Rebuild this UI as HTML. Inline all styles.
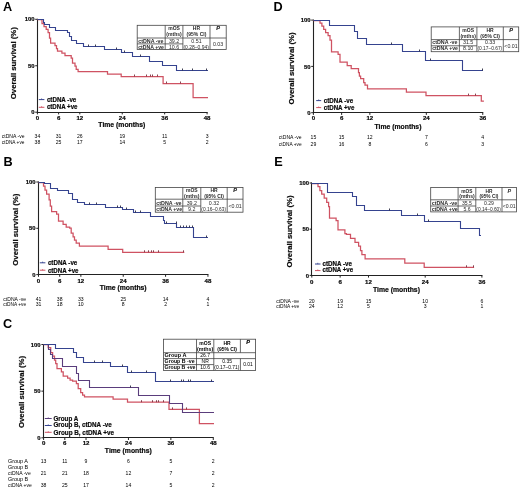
<!DOCTYPE html>
<html><head><meta charset="utf-8"><style>
html,body{margin:0;padding:0;background:#fff;}
svg{display:block;font-family:"Liberation Sans", sans-serif;will-change:transform;}
</style></head><body>
<svg width="520" height="488" viewBox="0 0 520 488">
<rect width="520" height="488" fill="#fff"/>
<text x="3.00" y="11.00" font-size="12.7" font-weight="bold">A</text>
<line x1="37.50" y1="18.80" x2="37.50" y2="113.00" stroke="#222" stroke-width="1.1"/>
<line x1="37.00" y1="112.50" x2="207.58" y2="112.50" stroke="#222" stroke-width="1.1"/>
<line x1="35.20" y1="19.30" x2="37.40" y2="19.30" stroke="#222" stroke-width="1"/>
<text x="34.60" y="21.40" font-size="5.9" font-weight="bold" stroke="#222" stroke-width="0.22" text-anchor="end">100</text>
<line x1="35.20" y1="65.75" x2="37.40" y2="65.75" stroke="#222" stroke-width="1"/>
<text x="34.60" y="67.85" font-size="5.9" font-weight="bold" stroke="#222" stroke-width="0.22" text-anchor="end">50</text>
<line x1="35.20" y1="112.20" x2="37.40" y2="112.20" stroke="#222" stroke-width="1"/>
<text x="34.60" y="114.30" font-size="5.9" font-weight="bold" stroke="#222" stroke-width="0.22" text-anchor="end">0</text>
<line x1="37.40" y1="112.20" x2="37.40" y2="114.40" stroke="#222" stroke-width="1"/>
<text x="37.40" y="119.70" font-size="6.1" font-weight="bold" stroke="#222" stroke-width="0.22" text-anchor="middle">0</text>
<line x1="58.61" y1="112.20" x2="58.61" y2="114.40" stroke="#222" stroke-width="1"/>
<text x="58.61" y="119.70" font-size="6.1" font-weight="bold" stroke="#222" stroke-width="0.22" text-anchor="middle">6</text>
<line x1="79.82" y1="112.20" x2="79.82" y2="114.40" stroke="#222" stroke-width="1"/>
<text x="79.82" y="119.70" font-size="6.1" font-weight="bold" stroke="#222" stroke-width="0.22" text-anchor="middle">12</text>
<line x1="122.24" y1="112.20" x2="122.24" y2="114.40" stroke="#222" stroke-width="1"/>
<text x="122.24" y="119.70" font-size="6.1" font-weight="bold" stroke="#222" stroke-width="0.22" text-anchor="middle">24</text>
<line x1="164.66" y1="112.20" x2="164.66" y2="114.40" stroke="#222" stroke-width="1"/>
<text x="164.66" y="119.70" font-size="6.1" font-weight="bold" stroke="#222" stroke-width="0.22" text-anchor="middle">36</text>
<line x1="207.08" y1="112.20" x2="207.08" y2="114.40" stroke="#222" stroke-width="1"/>
<text x="207.08" y="119.70" font-size="6.1" font-weight="bold" stroke="#222" stroke-width="0.22" text-anchor="middle">48</text>
<text x="15.60" y="63.20" font-size="7.9" font-weight="bold" stroke="#222" stroke-width="0.22" text-anchor="middle" textLength="72" lengthAdjust="spacingAndGlyphs" transform="rotate(-90 15.60 63.20)">Overall survival (%)</text>
<text x="121.80" y="127.00" font-size="7.0" font-weight="bold" stroke="#222" stroke-width="0.22" text-anchor="middle" textLength="46.9" lengthAdjust="spacingAndGlyphs">Time (months)</text>
<path d="M37.40 19.50H42.00V23.70H44.00V26.50H46.20V29.40H48.10V32.50H49.50V38.00H50.60V43.10H55.00V45.60H56.50V48.50H57.50V51.20H61.90V53.10H65.00V55.60H71.20V58.10H72.50V63.10H75.00V66.20H76.20V69.40H78.10V71.50H107.50V74.00H121.20V76.50H163.10V83.50H193.10V97.70H208.00" fill="none" stroke="#cf5262" stroke-width="1.25" stroke-linejoin="miter"/>
<path d="M37.50 19.50H43.50V22.50H44.50V24.50H49.50V27.50H55.50V30.50H67.50V32.50H69.50V36.50H71.50V40.50H76.50V43.50H83.50V46.50H104.50V49.50H121.50V52.50H132.50V56.50H149.50V61.50H162.50V65.50H176.50V70.50H208.00" fill="none" stroke="#35438f" stroke-width="1.1" stroke-linejoin="miter"/>
<line x1="88.50" y1="44.50" x2="88.50" y2="46.50" stroke="#2a2a40" stroke-width="0.9"/>
<line x1="95.50" y1="44.50" x2="95.50" y2="46.50" stroke="#2a2a40" stroke-width="0.9"/>
<line x1="116.50" y1="47.50" x2="116.50" y2="49.50" stroke="#2a2a40" stroke-width="0.9"/>
<line x1="124.50" y1="50.50" x2="124.50" y2="52.50" stroke="#2a2a40" stroke-width="0.9"/>
<line x1="140.50" y1="54.50" x2="140.50" y2="56.50" stroke="#2a2a40" stroke-width="0.9"/>
<line x1="182.50" y1="68.50" x2="182.50" y2="70.50" stroke="#2a2a40" stroke-width="0.9"/>
<line x1="192.50" y1="68.50" x2="192.50" y2="70.50" stroke="#2a2a40" stroke-width="0.9"/>
<line x1="206.50" y1="68.50" x2="206.50" y2="70.50" stroke="#2a2a40" stroke-width="0.9"/>
<line x1="134.50" y1="74.50" x2="134.50" y2="76.50" stroke="#7a3040" stroke-width="0.9"/>
<line x1="146.50" y1="74.50" x2="146.50" y2="76.50" stroke="#7a3040" stroke-width="0.9"/>
<line x1="150.50" y1="74.50" x2="150.50" y2="76.50" stroke="#7a3040" stroke-width="0.9"/>
<line x1="152.50" y1="74.50" x2="152.50" y2="76.50" stroke="#7a3040" stroke-width="0.9"/>
<line x1="157.50" y1="74.50" x2="157.50" y2="76.50" stroke="#7a3040" stroke-width="0.9"/>
<line x1="166.50" y1="81.50" x2="166.50" y2="83.50" stroke="#7a3040" stroke-width="0.9"/>
<line x1="180.50" y1="81.50" x2="180.50" y2="83.50" stroke="#7a3040" stroke-width="0.9"/>
<line x1="38.80" y1="99.60" x2="44.40" y2="99.60" stroke="#35438f" stroke-width="1"/>
<line x1="41.60" y1="98.40" x2="41.60" y2="99.80" stroke="#35438f" stroke-width="0.7"/>
<text x="46.90" y="102.20" font-size="6.5" font-weight="bold" stroke="#222" stroke-width="0.22" textLength="29.4" lengthAdjust="spacingAndGlyphs">ctDNA -ve</text>
<line x1="38.80" y1="107.30" x2="44.40" y2="107.30" stroke="#cf5262" stroke-width="1"/>
<line x1="41.60" y1="106.10" x2="41.60" y2="107.50" stroke="#cf5262" stroke-width="0.7"/>
<text x="46.90" y="109.30" font-size="6.5" font-weight="bold" stroke="#222" stroke-width="0.22" textLength="30.6" lengthAdjust="spacingAndGlyphs">ctDNA +ve</text>
<rect x="137.20" y="25.30" width="89.00" height="24.10" fill="#fff" stroke="#444" stroke-width="0.8"/>
<line x1="165.20" y1="25.30" x2="165.20" y2="49.40" stroke="#444" stroke-width="0.8"/>
<line x1="182.90" y1="25.30" x2="182.90" y2="49.40" stroke="#444" stroke-width="0.8"/>
<line x1="210.00" y1="25.30" x2="210.00" y2="49.40" stroke="#444" stroke-width="0.8"/>
<line x1="137.20" y1="38.00" x2="226.20" y2="38.00" stroke="#444" stroke-width="0.8"/>
<line x1="137.20" y1="43.90" x2="182.90" y2="43.90" stroke="#444" stroke-width="0.8"/>
<text x="174.05" y="29.60" font-size="5.0" font-weight="bold" text-anchor="middle" fill="#2a2a2a">mOS</text>
<text x="174.05" y="36.30" font-size="5.0" font-weight="bold" text-anchor="middle" textLength="15.5" lengthAdjust="spacingAndGlyphs" fill="#2a2a2a">(mths)</text>
<text x="196.45" y="29.60" font-size="5.0" font-weight="bold" text-anchor="middle" fill="#2a2a2a">HR</text>
<text x="196.45" y="36.30" font-size="5.0" font-weight="bold" text-anchor="middle" fill="#2a2a2a">(95% CI)</text>
<text x="218.10" y="29.60" font-size="5.6" font-weight="bold" stroke="#2a2a2a" stroke-width="0.22" font-style="italic" text-anchor="middle" fill="#2a2a2a">P</text>
<text x="138.20" y="42.70" font-size="5.3" font-weight="bold" textLength="25.3" lengthAdjust="spacingAndGlyphs" fill="#2a2a2a">ctDNA -ve</text>
<text x="138.20" y="48.50" font-size="5.3" font-weight="bold" textLength="25.8" lengthAdjust="spacingAndGlyphs" fill="#2a2a2a">ctDNA +ve</text>
<text x="174.05" y="42.70" font-size="5.3" text-anchor="middle" fill="#2a2a2a">39.2</text>
<text x="174.05" y="48.50" font-size="5.3" text-anchor="middle" fill="#2a2a2a">10.6</text>
<text x="196.45" y="42.70" font-size="5.3" text-anchor="middle" fill="#2a2a2a">0.51</text>
<text x="196.15" y="48.60" font-size="5.4" text-anchor="middle" textLength="25.499999999999993" lengthAdjust="spacingAndGlyphs" fill="#2a2a2a">(0.28–0.94)</text>
<text x="218.10" y="45.80" font-size="5.3" text-anchor="middle" fill="#2a2a2a">0.03</text>
<text x="1.70" y="138.00" font-size="5.1" textLength="22.8" lengthAdjust="spacingAndGlyphs">ctDNA -ve</text>
<text x="37.40" y="138.00" font-size="5.1" text-anchor="middle">34</text>
<text x="58.61" y="138.00" font-size="5.1" text-anchor="middle">31</text>
<text x="79.82" y="138.00" font-size="5.1" text-anchor="middle">26</text>
<text x="122.24" y="138.00" font-size="5.1" text-anchor="middle">19</text>
<text x="164.66" y="138.00" font-size="5.1" text-anchor="middle">11</text>
<text x="207.08" y="138.00" font-size="5.1" text-anchor="middle">3</text>
<text x="1.70" y="143.90" font-size="5.1" textLength="22.8" lengthAdjust="spacingAndGlyphs">ctDNA +ve</text>
<text x="37.40" y="143.90" font-size="5.1" text-anchor="middle">38</text>
<text x="58.61" y="143.90" font-size="5.1" text-anchor="middle">25</text>
<text x="79.82" y="143.90" font-size="5.1" text-anchor="middle">17</text>
<text x="122.24" y="143.90" font-size="5.1" text-anchor="middle">14</text>
<text x="164.66" y="143.90" font-size="5.1" text-anchor="middle">5</text>
<text x="207.08" y="143.90" font-size="5.1" text-anchor="middle">2</text>
<text x="3.60" y="165.80" font-size="12.7" font-weight="bold">B</text>
<line x1="38.50" y1="181.50" x2="38.50" y2="275.00" stroke="#222" stroke-width="1.1"/>
<line x1="38.00" y1="274.50" x2="208.44" y2="274.50" stroke="#222" stroke-width="1.1"/>
<line x1="36.30" y1="182.00" x2="38.50" y2="182.00" stroke="#222" stroke-width="1"/>
<text x="35.50" y="184.10" font-size="5.9" font-weight="bold" stroke="#222" stroke-width="0.22" text-anchor="end">100</text>
<line x1="36.30" y1="228.30" x2="38.50" y2="228.30" stroke="#222" stroke-width="1"/>
<text x="35.50" y="230.40" font-size="5.9" font-weight="bold" stroke="#222" stroke-width="0.22" text-anchor="end">50</text>
<line x1="36.30" y1="274.60" x2="38.50" y2="274.60" stroke="#222" stroke-width="1"/>
<text x="35.50" y="276.70" font-size="5.9" font-weight="bold" stroke="#222" stroke-width="0.22" text-anchor="end">0</text>
<line x1="38.50" y1="274.60" x2="38.50" y2="276.80" stroke="#222" stroke-width="1"/>
<text x="38.50" y="282.50" font-size="6.1" font-weight="bold" stroke="#222" stroke-width="0.22" text-anchor="middle">0</text>
<line x1="59.68" y1="274.60" x2="59.68" y2="276.80" stroke="#222" stroke-width="1"/>
<text x="59.68" y="282.50" font-size="6.1" font-weight="bold" stroke="#222" stroke-width="0.22" text-anchor="middle">6</text>
<line x1="80.86" y1="274.60" x2="80.86" y2="276.80" stroke="#222" stroke-width="1"/>
<text x="80.86" y="282.50" font-size="6.1" font-weight="bold" stroke="#222" stroke-width="0.22" text-anchor="middle">12</text>
<line x1="123.22" y1="274.60" x2="123.22" y2="276.80" stroke="#222" stroke-width="1"/>
<text x="123.22" y="282.50" font-size="6.1" font-weight="bold" stroke="#222" stroke-width="0.22" text-anchor="middle">24</text>
<line x1="165.58" y1="274.60" x2="165.58" y2="276.80" stroke="#222" stroke-width="1"/>
<text x="165.58" y="282.50" font-size="6.1" font-weight="bold" stroke="#222" stroke-width="0.22" text-anchor="middle">36</text>
<line x1="207.94" y1="274.60" x2="207.94" y2="276.80" stroke="#222" stroke-width="1"/>
<text x="207.94" y="282.50" font-size="6.1" font-weight="bold" stroke="#222" stroke-width="0.22" text-anchor="middle">48</text>
<text x="18.40" y="229.70" font-size="7.9" font-weight="bold" stroke="#222" stroke-width="0.22" text-anchor="middle" textLength="72" lengthAdjust="spacingAndGlyphs" transform="rotate(-90 18.40 229.70)">Overall survival (%)</text>
<text x="123.20" y="290.20" font-size="7.0" font-weight="bold" stroke="#222" stroke-width="0.22" text-anchor="middle" textLength="46.9" lengthAdjust="spacingAndGlyphs">Time (months)</text>
<path d="M38.50 182.50H43.50V186.00H45.00V190.00H46.60V194.20H49.10V199.90H50.30V206.00H51.60V211.70H56.60V214.20H58.50V221.10H63.10V224.40H66.20V227.20H69.70V228.00H71.20V233.10H73.10V236.90H74.50V240.00H76.20V243.10H79.40V246.20H108.10V249.40H122.70V252.30H184.30" fill="none" stroke="#cf5262" stroke-width="1.25" stroke-linejoin="miter"/>
<path d="M38.50 182.50H44.50V183.50H50.50V188.50H57.50V190.50H68.50V193.50H72.50V199.50H77.50V202.50H84.50V204.50H105.50V207.50H122.50V209.50H133.50V212.50H150.50V216.50H163.50V220.50H164.50V223.50H176.50V227.50H193.50V237.50H208.00" fill="none" stroke="#35438f" stroke-width="1.1" stroke-linejoin="miter"/>
<line x1="89.50" y1="202.50" x2="89.50" y2="204.50" stroke="#2a2a40" stroke-width="0.9"/>
<line x1="96.50" y1="202.50" x2="96.50" y2="204.50" stroke="#2a2a40" stroke-width="0.9"/>
<line x1="117.50" y1="205.50" x2="117.50" y2="207.50" stroke="#2a2a40" stroke-width="0.9"/>
<line x1="120.50" y1="205.50" x2="120.50" y2="207.50" stroke="#2a2a40" stroke-width="0.9"/>
<line x1="126.50" y1="207.50" x2="126.50" y2="209.50" stroke="#2a2a40" stroke-width="0.9"/>
<line x1="135.50" y1="210.50" x2="135.50" y2="212.50" stroke="#2a2a40" stroke-width="0.9"/>
<line x1="140.50" y1="210.50" x2="140.50" y2="212.50" stroke="#2a2a40" stroke-width="0.9"/>
<line x1="166.50" y1="221.50" x2="166.50" y2="223.50" stroke="#2a2a40" stroke-width="0.9"/>
<line x1="176.50" y1="221.50" x2="176.50" y2="223.50" stroke="#2a2a40" stroke-width="0.9"/>
<line x1="180.50" y1="225.50" x2="180.50" y2="227.50" stroke="#2a2a40" stroke-width="0.9"/>
<line x1="183.50" y1="225.50" x2="183.50" y2="227.50" stroke="#2a2a40" stroke-width="0.9"/>
<line x1="186.50" y1="225.50" x2="186.50" y2="227.50" stroke="#2a2a40" stroke-width="0.9"/>
<line x1="189.50" y1="225.50" x2="189.50" y2="227.50" stroke="#2a2a40" stroke-width="0.9"/>
<line x1="192.50" y1="225.50" x2="192.50" y2="227.50" stroke="#2a2a40" stroke-width="0.9"/>
<line x1="206.50" y1="235.50" x2="206.50" y2="237.50" stroke="#2a2a40" stroke-width="0.9"/>
<line x1="144.50" y1="250.30" x2="144.50" y2="252.30" stroke="#7a3040" stroke-width="0.9"/>
<line x1="148.50" y1="250.30" x2="148.50" y2="252.30" stroke="#7a3040" stroke-width="0.9"/>
<line x1="151.50" y1="250.30" x2="151.50" y2="252.30" stroke="#7a3040" stroke-width="0.9"/>
<line x1="153.50" y1="250.30" x2="153.50" y2="252.30" stroke="#7a3040" stroke-width="0.9"/>
<line x1="158.50" y1="250.30" x2="158.50" y2="252.30" stroke="#7a3040" stroke-width="0.9"/>
<line x1="183.50" y1="250.30" x2="183.50" y2="252.30" stroke="#7a3040" stroke-width="0.9"/>
<line x1="39.80" y1="262.80" x2="45.40" y2="262.80" stroke="#35438f" stroke-width="1"/>
<line x1="42.60" y1="261.60" x2="42.60" y2="263.00" stroke="#35438f" stroke-width="0.7"/>
<text x="47.90" y="265.30" font-size="6.5" font-weight="bold" stroke="#222" stroke-width="0.22" textLength="29.4" lengthAdjust="spacingAndGlyphs">ctDNA -ve</text>
<line x1="39.80" y1="270.20" x2="45.40" y2="270.20" stroke="#cf5262" stroke-width="1"/>
<line x1="42.60" y1="269.00" x2="42.60" y2="270.40" stroke="#cf5262" stroke-width="0.7"/>
<text x="47.90" y="272.50" font-size="6.5" font-weight="bold" stroke="#222" stroke-width="0.22" textLength="30.6" lengthAdjust="spacingAndGlyphs">ctDNA +ve</text>
<rect x="155.30" y="187.40" width="87.70" height="24.80" fill="#fff" stroke="#444" stroke-width="0.8"/>
<line x1="182.80" y1="187.40" x2="182.80" y2="212.20" stroke="#444" stroke-width="0.8"/>
<line x1="200.80" y1="187.40" x2="200.80" y2="212.20" stroke="#444" stroke-width="0.8"/>
<line x1="227.20" y1="187.40" x2="227.20" y2="212.20" stroke="#444" stroke-width="0.8"/>
<line x1="155.30" y1="199.20" x2="243.00" y2="199.20" stroke="#444" stroke-width="0.8"/>
<line x1="155.30" y1="206.00" x2="200.80" y2="206.00" stroke="#444" stroke-width="0.8"/>
<text x="191.80" y="192.10" font-size="5.0" font-weight="bold" text-anchor="middle" fill="#2a2a2a">mOS</text>
<text x="191.80" y="198.40" font-size="5.0" font-weight="bold" text-anchor="middle" textLength="15.5" lengthAdjust="spacingAndGlyphs" fill="#2a2a2a">(mths)</text>
<text x="214.00" y="192.10" font-size="5.0" font-weight="bold" text-anchor="middle" fill="#2a2a2a">HR</text>
<text x="214.00" y="198.40" font-size="5.0" font-weight="bold" text-anchor="middle" fill="#2a2a2a">(95% CI)</text>
<text x="235.10" y="192.10" font-size="5.6" font-weight="bold" stroke="#2a2a2a" stroke-width="0.22" font-style="italic" text-anchor="middle" fill="#2a2a2a">P</text>
<text x="156.30" y="205.00" font-size="5.3" font-weight="bold" textLength="25.3" lengthAdjust="spacingAndGlyphs" fill="#2a2a2a">ctDNA -ve</text>
<text x="156.30" y="210.90" font-size="5.3" font-weight="bold" textLength="25.8" lengthAdjust="spacingAndGlyphs" fill="#2a2a2a">ctDNA +ve</text>
<text x="191.80" y="205.00" font-size="5.3" text-anchor="middle" fill="#2a2a2a">39.2</text>
<text x="191.80" y="210.90" font-size="5.3" text-anchor="middle" fill="#2a2a2a">9.2</text>
<text x="214.00" y="205.00" font-size="5.3" text-anchor="middle" fill="#2a2a2a">0.32</text>
<text x="213.70" y="211.00" font-size="5.4" text-anchor="middle" textLength="24.799999999999976" lengthAdjust="spacingAndGlyphs" fill="#2a2a2a">(0.16–0.63)</text>
<text x="235.10" y="207.90" font-size="5.3" text-anchor="middle" fill="#2a2a2a">&lt;0.01</text>
<text x="3.30" y="300.80" font-size="5.1" textLength="22.8" lengthAdjust="spacingAndGlyphs">ctDNA -ve</text>
<text x="38.50" y="300.80" font-size="5.1" text-anchor="middle">41</text>
<text x="59.68" y="300.80" font-size="5.1" text-anchor="middle">38</text>
<text x="80.86" y="300.80" font-size="5.1" text-anchor="middle">33</text>
<text x="123.22" y="300.80" font-size="5.1" text-anchor="middle">25</text>
<text x="165.58" y="300.80" font-size="5.1" text-anchor="middle">14</text>
<text x="207.94" y="300.80" font-size="5.1" text-anchor="middle">4</text>
<text x="3.30" y="306.30" font-size="5.1" textLength="22.8" lengthAdjust="spacingAndGlyphs">ctDNA +ve</text>
<text x="38.50" y="306.30" font-size="5.1" text-anchor="middle">31</text>
<text x="59.68" y="306.30" font-size="5.1" text-anchor="middle">18</text>
<text x="80.86" y="306.30" font-size="5.1" text-anchor="middle">10</text>
<text x="123.22" y="306.30" font-size="5.1" text-anchor="middle">8</text>
<text x="165.58" y="306.30" font-size="5.1" text-anchor="middle">2</text>
<text x="207.94" y="306.30" font-size="5.1" text-anchor="middle">1</text>
<text x="3.00" y="328.40" font-size="12.7" font-weight="bold">C</text>
<line x1="43.50" y1="344.00" x2="43.50" y2="438.00" stroke="#222" stroke-width="1.1"/>
<line x1="43.00" y1="437.50" x2="213.78" y2="437.50" stroke="#222" stroke-width="1.1"/>
<line x1="41.40" y1="344.50" x2="43.60" y2="344.50" stroke="#222" stroke-width="1"/>
<text x="40.60" y="346.60" font-size="5.9" font-weight="bold" stroke="#222" stroke-width="0.22" text-anchor="end">100</text>
<line x1="41.40" y1="391.15" x2="43.60" y2="391.15" stroke="#222" stroke-width="1"/>
<text x="40.60" y="393.25" font-size="5.9" font-weight="bold" stroke="#222" stroke-width="0.22" text-anchor="end">50</text>
<line x1="41.40" y1="437.80" x2="43.60" y2="437.80" stroke="#222" stroke-width="1"/>
<text x="40.60" y="439.90" font-size="5.9" font-weight="bold" stroke="#222" stroke-width="0.22" text-anchor="end">0</text>
<line x1="43.60" y1="437.80" x2="43.60" y2="440.00" stroke="#222" stroke-width="1"/>
<text x="43.60" y="445.20" font-size="6.1" font-weight="bold" stroke="#222" stroke-width="0.22" text-anchor="middle">0</text>
<line x1="64.81" y1="437.80" x2="64.81" y2="440.00" stroke="#222" stroke-width="1"/>
<text x="64.81" y="445.20" font-size="6.1" font-weight="bold" stroke="#222" stroke-width="0.22" text-anchor="middle">6</text>
<line x1="86.02" y1="437.80" x2="86.02" y2="440.00" stroke="#222" stroke-width="1"/>
<text x="86.02" y="445.20" font-size="6.1" font-weight="bold" stroke="#222" stroke-width="0.22" text-anchor="middle">12</text>
<line x1="128.44" y1="437.80" x2="128.44" y2="440.00" stroke="#222" stroke-width="1"/>
<text x="128.44" y="445.20" font-size="6.1" font-weight="bold" stroke="#222" stroke-width="0.22" text-anchor="middle">24</text>
<line x1="170.86" y1="437.80" x2="170.86" y2="440.00" stroke="#222" stroke-width="1"/>
<text x="170.86" y="445.20" font-size="6.1" font-weight="bold" stroke="#222" stroke-width="0.22" text-anchor="middle">36</text>
<line x1="213.28" y1="437.80" x2="213.28" y2="440.00" stroke="#222" stroke-width="1"/>
<text x="213.28" y="445.20" font-size="6.1" font-weight="bold" stroke="#222" stroke-width="0.22" text-anchor="middle">48</text>
<text x="24.00" y="392.00" font-size="7.9" font-weight="bold" stroke="#222" stroke-width="0.22" text-anchor="middle" textLength="72" lengthAdjust="spacingAndGlyphs" transform="rotate(-90 24.00 392.00)">Overall survival (%)</text>
<text x="128.30" y="452.90" font-size="7.0" font-weight="bold" stroke="#222" stroke-width="0.22" text-anchor="middle" textLength="46.9" lengthAdjust="spacingAndGlyphs">Time (months)</text>
<path d="M43.60 344.50H48.20V347.50H50.70V352.50H52.60V356.20H54.50V360.00H55.70V363.70H57.00V368.70H61.40V371.90H63.20V376.20H67.60V378.10H70.10V380.00H72.60V381.20H76.40V383.70H78.20V388.70H80.70V392.50H82.60V395.00H84.50V396.90H113.10V399.10H127.50V402.20H169.00V409.40H199.40V423.50H214.00" fill="none" stroke="#cf5262" stroke-width="1.25" stroke-linejoin="miter"/>
<path d="M43.50 344.50H48.50V349.50H50.50V354.50H52.50V358.50H62.50V366.50H76.50V373.50H78.50V380.50H89.50V387.50H138.50V395.50H169.50V403.50H182.50V412.50H214.00" fill="none" stroke="#5a3d7c" stroke-width="1.1" stroke-linejoin="miter"/>
<path d="M43.50 344.50H55.50V348.50H73.50V352.50H76.50V357.50H83.50V362.50H110.50V366.50H127.50V372.50H155.50V381.50H214.00" fill="none" stroke="#35438f" stroke-width="1.1" stroke-linejoin="miter"/>
<line x1="94.50" y1="360.50" x2="94.50" y2="362.50" stroke="#2a2a40" stroke-width="0.9"/>
<line x1="102.50" y1="360.50" x2="102.50" y2="362.50" stroke="#2a2a40" stroke-width="0.9"/>
<line x1="122.50" y1="364.50" x2="122.50" y2="366.50" stroke="#2a2a40" stroke-width="0.9"/>
<line x1="131.50" y1="370.50" x2="131.50" y2="372.50" stroke="#2a2a40" stroke-width="0.9"/>
<line x1="146.50" y1="370.50" x2="146.50" y2="372.50" stroke="#2a2a40" stroke-width="0.9"/>
<line x1="170.50" y1="379.50" x2="170.50" y2="381.50" stroke="#2a2a40" stroke-width="0.9"/>
<line x1="181.50" y1="379.50" x2="181.50" y2="381.50" stroke="#2a2a40" stroke-width="0.9"/>
<line x1="183.50" y1="379.50" x2="183.50" y2="381.50" stroke="#2a2a40" stroke-width="0.9"/>
<line x1="188.50" y1="379.50" x2="188.50" y2="381.50" stroke="#2a2a40" stroke-width="0.9"/>
<line x1="190.50" y1="379.50" x2="190.50" y2="381.50" stroke="#2a2a40" stroke-width="0.9"/>
<line x1="211.50" y1="379.50" x2="211.50" y2="381.50" stroke="#2a2a40" stroke-width="0.9"/>
<line x1="130.50" y1="385.50" x2="130.50" y2="387.50" stroke="#2a2a40" stroke-width="0.9"/>
<line x1="141.50" y1="400.20" x2="141.50" y2="402.20" stroke="#7a3040" stroke-width="0.9"/>
<line x1="152.50" y1="400.20" x2="152.50" y2="402.20" stroke="#7a3040" stroke-width="0.9"/>
<line x1="156.50" y1="400.20" x2="156.50" y2="402.20" stroke="#7a3040" stroke-width="0.9"/>
<line x1="158.50" y1="400.20" x2="158.50" y2="402.20" stroke="#7a3040" stroke-width="0.9"/>
<line x1="163.50" y1="400.20" x2="163.50" y2="402.20" stroke="#7a3040" stroke-width="0.9"/>
<line x1="172.50" y1="407.40" x2="172.50" y2="409.40" stroke="#7a3040" stroke-width="0.9"/>
<line x1="186.50" y1="407.40" x2="186.50" y2="409.40" stroke="#7a3040" stroke-width="0.9"/>
<line x1="44.80" y1="418.50" x2="51.70" y2="418.50" stroke="#5a3d7c" stroke-width="1"/>
<line x1="48.25" y1="417.30" x2="48.25" y2="418.70" stroke="#5a3d7c" stroke-width="0.7"/>
<text x="53.50" y="420.80" font-size="6.5" font-weight="bold" stroke="#222" stroke-width="0.22" textLength="24.7" lengthAdjust="spacingAndGlyphs">Group A</text>
<line x1="44.80" y1="425.50" x2="51.70" y2="425.50" stroke="#35438f" stroke-width="1"/>
<line x1="48.25" y1="424.30" x2="48.25" y2="425.70" stroke="#35438f" stroke-width="0.7"/>
<text x="53.50" y="427.40" font-size="6.5" font-weight="bold" stroke="#222" stroke-width="0.22" textLength="58.2" lengthAdjust="spacingAndGlyphs">Group B, ctDNA -ve</text>
<line x1="44.80" y1="432.30" x2="51.70" y2="432.30" stroke="#cf5262" stroke-width="1"/>
<line x1="48.25" y1="431.10" x2="48.25" y2="432.50" stroke="#cf5262" stroke-width="0.7"/>
<text x="53.50" y="434.80" font-size="6.5" font-weight="bold" stroke="#222" stroke-width="0.22" textLength="60.5" lengthAdjust="spacingAndGlyphs">Group B, ctDNA +ve</text>
<rect x="163.5" y="339.2" width="92.10" height="31.20" fill="#fff" stroke="#444" stroke-width="0.8"/>
<line x1="196.50" y1="339.20" x2="196.50" y2="370.40" stroke="#444" stroke-width="0.8"/>
<line x1="213.80" y1="339.20" x2="213.80" y2="370.40" stroke="#444" stroke-width="0.8"/>
<line x1="240.40" y1="339.20" x2="240.40" y2="352.70" stroke="#444" stroke-width="0.8"/>
<line x1="240.40" y1="358.60" x2="240.40" y2="370.40" stroke="#444" stroke-width="0.8"/>
<line x1="163.50" y1="352.70" x2="255.60" y2="352.70" stroke="#444" stroke-width="0.8"/>
<line x1="163.50" y1="358.60" x2="255.60" y2="358.60" stroke="#444" stroke-width="0.8"/>
<line x1="163.50" y1="364.60" x2="213.80" y2="364.60" stroke="#444" stroke-width="0.8"/>
<text x="205.15" y="344.70" font-size="5.0" font-weight="bold" text-anchor="middle">mOS</text>
<text x="205.15" y="351.10" font-size="5.0" font-weight="bold" text-anchor="middle" textLength="16.2" lengthAdjust="spacingAndGlyphs">(mths)</text>
<text x="227.10" y="344.70" font-size="5.0" font-weight="bold" text-anchor="middle">HR</text>
<text x="227.10" y="351.10" font-size="5.0" font-weight="bold" text-anchor="middle">(95% CI)</text>
<text x="248.00" y="343.80" font-size="5.6" font-weight="bold" stroke="#222" stroke-width="0.22" font-style="italic" text-anchor="middle">P</text>
<text x="164.50" y="357.40" font-size="5.0" font-weight="bold" textLength="22.0" lengthAdjust="spacingAndGlyphs">Group A</text>
<text x="164.60" y="363.40" font-size="5.0" font-weight="bold" textLength="30.0" lengthAdjust="spacingAndGlyphs">Group B -ve</text>
<text x="164.50" y="369.40" font-size="5.0" font-weight="bold" textLength="31.0" lengthAdjust="spacingAndGlyphs">Group B +ve</text>
<text x="205.15" y="357.40" font-size="5.0" text-anchor="middle">26.7</text>
<text x="205.15" y="363.40" font-size="5.0" text-anchor="middle">NR</text>
<text x="205.15" y="369.40" font-size="5.0" text-anchor="middle">10.6</text>
<text x="227.10" y="363.00" font-size="5.0" text-anchor="middle">0.35</text>
<text x="226.80" y="369.20" font-size="5.4" text-anchor="middle" textLength="25.0" lengthAdjust="spacingAndGlyphs">(0.17–0.71)</text>
<text x="248.00" y="366.30" font-size="5.0" text-anchor="middle">0.01</text>
<text x="8.00" y="462.90" font-size="5.1" textLength="20.0" lengthAdjust="spacingAndGlyphs">Group A</text>
<text x="43.60" y="462.90" font-size="5.1" text-anchor="middle">13</text>
<text x="64.81" y="462.90" font-size="5.1" text-anchor="middle">11</text>
<text x="86.02" y="462.90" font-size="5.1" text-anchor="middle">9</text>
<text x="128.44" y="462.90" font-size="5.1" text-anchor="middle">6</text>
<text x="170.86" y="462.90" font-size="5.1" text-anchor="middle">5</text>
<text x="213.28" y="462.90" font-size="5.1" text-anchor="middle">2</text>
<text x="8.00" y="469.00" font-size="5.1" textLength="20.2" lengthAdjust="spacingAndGlyphs">Group B</text>
<text x="8.00" y="475.30" font-size="5.1" textLength="22.7" lengthAdjust="spacingAndGlyphs">ctDNA -ve</text>
<text x="43.60" y="475.30" font-size="5.1" text-anchor="middle">21</text>
<text x="64.81" y="475.30" font-size="5.1" text-anchor="middle">21</text>
<text x="86.02" y="475.30" font-size="5.1" text-anchor="middle">18</text>
<text x="128.44" y="475.30" font-size="5.1" text-anchor="middle">12</text>
<text x="170.86" y="475.30" font-size="5.1" text-anchor="middle">7</text>
<text x="213.28" y="475.30" font-size="5.1" text-anchor="middle">2</text>
<text x="8.00" y="481.20" font-size="5.1" textLength="20.2" lengthAdjust="spacingAndGlyphs">Group B</text>
<text x="8.00" y="487.30" font-size="5.1" textLength="23.7" lengthAdjust="spacingAndGlyphs">ctDNA +ve</text>
<text x="43.60" y="487.30" font-size="5.1" text-anchor="middle">38</text>
<text x="64.81" y="487.30" font-size="5.1" text-anchor="middle">25</text>
<text x="86.02" y="487.30" font-size="5.1" text-anchor="middle">17</text>
<text x="128.44" y="487.30" font-size="5.1" text-anchor="middle">14</text>
<text x="170.86" y="487.30" font-size="5.1" text-anchor="middle">5</text>
<text x="213.28" y="487.30" font-size="5.1" text-anchor="middle">2</text>
<text x="273.50" y="11.00" font-size="12.7" font-weight="bold">D</text>
<line x1="313.50" y1="19.60" x2="313.50" y2="113.00" stroke="#222" stroke-width="1.1"/>
<line x1="313.00" y1="112.50" x2="483.28" y2="112.50" stroke="#222" stroke-width="1.1"/>
<line x1="311.20" y1="20.10" x2="313.40" y2="20.10" stroke="#222" stroke-width="1"/>
<text x="310.60" y="22.20" font-size="5.9" font-weight="bold" stroke="#222" stroke-width="0.22" text-anchor="end">100</text>
<line x1="311.20" y1="66.40" x2="313.40" y2="66.40" stroke="#222" stroke-width="1"/>
<text x="310.60" y="68.50" font-size="5.9" font-weight="bold" stroke="#222" stroke-width="0.22" text-anchor="end">50</text>
<line x1="311.20" y1="112.70" x2="313.40" y2="112.70" stroke="#222" stroke-width="1"/>
<text x="310.60" y="114.80" font-size="5.9" font-weight="bold" stroke="#222" stroke-width="0.22" text-anchor="end">0</text>
<line x1="313.40" y1="112.70" x2="313.40" y2="114.90" stroke="#222" stroke-width="1"/>
<text x="313.40" y="120.20" font-size="6.1" font-weight="bold" stroke="#222" stroke-width="0.22" text-anchor="middle">0</text>
<line x1="341.63" y1="112.70" x2="341.63" y2="114.90" stroke="#222" stroke-width="1"/>
<text x="341.63" y="120.20" font-size="6.1" font-weight="bold" stroke="#222" stroke-width="0.22" text-anchor="middle">6</text>
<line x1="369.86" y1="112.70" x2="369.86" y2="114.90" stroke="#222" stroke-width="1"/>
<text x="369.86" y="120.20" font-size="6.1" font-weight="bold" stroke="#222" stroke-width="0.22" text-anchor="middle">12</text>
<line x1="426.32" y1="112.70" x2="426.32" y2="114.90" stroke="#222" stroke-width="1"/>
<text x="426.32" y="120.20" font-size="6.1" font-weight="bold" stroke="#222" stroke-width="0.22" text-anchor="middle">24</text>
<line x1="482.78" y1="112.70" x2="482.78" y2="114.90" stroke="#222" stroke-width="1"/>
<text x="482.78" y="120.20" font-size="6.1" font-weight="bold" stroke="#222" stroke-width="0.22" text-anchor="middle">36</text>
<text x="294.50" y="68.40" font-size="7.9" font-weight="bold" stroke="#222" stroke-width="0.22" text-anchor="middle" textLength="72" lengthAdjust="spacingAndGlyphs" transform="rotate(-90 294.50 68.40)">Overall survival (%)</text>
<text x="398.00" y="128.60" font-size="7.0" font-weight="bold" stroke="#222" stroke-width="0.22" text-anchor="middle" textLength="46.9" lengthAdjust="spacingAndGlyphs">Time (months)</text>
<path d="M313.40 20.50H320.00V23.10H321.90V26.20H323.70V29.40H325.60V32.50H328.10V35.60H330.00V40.00H331.50V51.90H338.10V54.40H340.00V62.20H347.20V65.60H351.20V68.60H358.50V72.50H359.40V76.20H360.60V78.70H363.70V82.50H365.00V85.20H367.50V88.80H406.40V92.10H426.00V95.60H481.30V101.10H483.90" fill="none" stroke="#cf5262" stroke-width="1.25" stroke-linejoin="miter"/>
<path d="M313.50 20.50H329.50V25.50H354.50V31.50H357.50V38.50H366.50V44.50H402.50V51.50H425.50V60.50H462.50V70.50H483.00" fill="none" stroke="#35438f" stroke-width="1.1" stroke-linejoin="miter"/>
<line x1="391.50" y1="42.50" x2="391.50" y2="44.50" stroke="#2a2a40" stroke-width="0.9"/>
<line x1="419.50" y1="49.50" x2="419.50" y2="51.50" stroke="#2a2a40" stroke-width="0.9"/>
<line x1="430.50" y1="58.50" x2="430.50" y2="60.50" stroke="#2a2a40" stroke-width="0.9"/>
<line x1="482.50" y1="68.50" x2="482.50" y2="70.50" stroke="#2a2a40" stroke-width="0.9"/>
<line x1="468.50" y1="93.60" x2="468.50" y2="95.60" stroke="#7a3040" stroke-width="0.9"/>
<line x1="475.50" y1="93.60" x2="475.50" y2="95.60" stroke="#7a3040" stroke-width="0.9"/>
<line x1="316.20" y1="100.60" x2="321.20" y2="100.60" stroke="#35438f" stroke-width="1"/>
<line x1="318.70" y1="99.40" x2="318.70" y2="100.80" stroke="#35438f" stroke-width="0.7"/>
<text x="323.80" y="102.60" font-size="6.5" font-weight="bold" stroke="#222" stroke-width="0.22" textLength="29.4" lengthAdjust="spacingAndGlyphs">ctDNA -ve</text>
<line x1="316.20" y1="107.60" x2="321.20" y2="107.60" stroke="#cf5262" stroke-width="1"/>
<line x1="318.70" y1="106.40" x2="318.70" y2="107.80" stroke="#cf5262" stroke-width="0.7"/>
<text x="323.80" y="110.00" font-size="6.5" font-weight="bold" stroke="#222" stroke-width="0.22" textLength="30.6" lengthAdjust="spacingAndGlyphs">ctDNA +ve</text>
<rect x="431.20" y="26.90" width="87.50" height="24.80" fill="#fff" stroke="#444" stroke-width="0.8"/>
<line x1="459.40" y1="26.90" x2="459.40" y2="51.70" stroke="#444" stroke-width="0.8"/>
<line x1="476.90" y1="26.90" x2="476.90" y2="51.70" stroke="#444" stroke-width="0.8"/>
<line x1="503.30" y1="26.90" x2="503.30" y2="51.70" stroke="#444" stroke-width="0.8"/>
<line x1="431.20" y1="39.60" x2="518.70" y2="39.60" stroke="#444" stroke-width="0.8"/>
<line x1="431.20" y1="45.80" x2="476.90" y2="45.80" stroke="#444" stroke-width="0.8"/>
<text x="468.15" y="32.10" font-size="5.0" font-weight="bold" text-anchor="middle" fill="#2a2a2a">mOS</text>
<text x="468.15" y="37.90" font-size="5.0" font-weight="bold" text-anchor="middle" textLength="15.5" lengthAdjust="spacingAndGlyphs" fill="#2a2a2a">(mths)</text>
<text x="490.10" y="32.10" font-size="5.0" font-weight="bold" text-anchor="middle" fill="#2a2a2a">HR</text>
<text x="490.10" y="37.90" font-size="5.0" font-weight="bold" text-anchor="middle" fill="#2a2a2a">(95% CI)</text>
<text x="511.00" y="32.10" font-size="5.6" font-weight="bold" stroke="#2a2a2a" stroke-width="0.22" font-style="italic" text-anchor="middle" fill="#2a2a2a">P</text>
<text x="432.20" y="44.20" font-size="5.3" font-weight="bold" textLength="25.3" lengthAdjust="spacingAndGlyphs" fill="#2a2a2a">ctDNA -ve</text>
<text x="432.20" y="50.00" font-size="5.3" font-weight="bold" textLength="25.8" lengthAdjust="spacingAndGlyphs" fill="#2a2a2a">ctDNA +ve</text>
<text x="468.15" y="44.20" font-size="5.3" text-anchor="middle" fill="#2a2a2a">31.5</text>
<text x="468.15" y="50.00" font-size="5.3" text-anchor="middle" fill="#2a2a2a">8.10</text>
<text x="490.10" y="44.20" font-size="5.3" text-anchor="middle" fill="#2a2a2a">0.33</text>
<text x="489.80" y="50.10" font-size="5.4" text-anchor="middle" textLength="24.800000000000033" lengthAdjust="spacingAndGlyphs" fill="#2a2a2a">(0.17–0.67)</text>
<text x="511.00" y="47.70" font-size="5.3" text-anchor="middle" fill="#2a2a2a">&lt;0.01</text>
<text x="278.80" y="139.30" font-size="5.1" textLength="22.8" lengthAdjust="spacingAndGlyphs">ctDNA -ve</text>
<text x="313.40" y="139.30" font-size="5.1" text-anchor="middle">15</text>
<text x="341.63" y="139.30" font-size="5.1" text-anchor="middle">15</text>
<text x="369.86" y="139.30" font-size="5.1" text-anchor="middle">12</text>
<text x="426.32" y="139.30" font-size="5.1" text-anchor="middle">7</text>
<text x="482.78" y="139.30" font-size="5.1" text-anchor="middle">4</text>
<text x="278.80" y="145.50" font-size="5.1" textLength="22.8" lengthAdjust="spacingAndGlyphs">ctDNA +ve</text>
<text x="313.40" y="145.50" font-size="5.1" text-anchor="middle">29</text>
<text x="341.63" y="145.50" font-size="5.1" text-anchor="middle">16</text>
<text x="369.86" y="145.50" font-size="5.1" text-anchor="middle">8</text>
<text x="426.32" y="145.50" font-size="5.1" text-anchor="middle">6</text>
<text x="482.78" y="145.50" font-size="5.1" text-anchor="middle">3</text>
<text x="274.30" y="165.90" font-size="12.7" font-weight="bold">E</text>
<line x1="311.50" y1="182.50" x2="311.50" y2="276.00" stroke="#222" stroke-width="1.1"/>
<line x1="311.00" y1="275.50" x2="482.40" y2="275.50" stroke="#222" stroke-width="1.1"/>
<line x1="309.60" y1="183.00" x2="311.80" y2="183.00" stroke="#222" stroke-width="1"/>
<text x="309.00" y="185.10" font-size="5.9" font-weight="bold" stroke="#222" stroke-width="0.22" text-anchor="end">100</text>
<line x1="309.60" y1="229.20" x2="311.80" y2="229.20" stroke="#222" stroke-width="1"/>
<text x="309.00" y="231.30" font-size="5.9" font-weight="bold" stroke="#222" stroke-width="0.22" text-anchor="end">50</text>
<line x1="309.60" y1="275.40" x2="311.80" y2="275.40" stroke="#222" stroke-width="1"/>
<text x="309.00" y="277.50" font-size="5.9" font-weight="bold" stroke="#222" stroke-width="0.22" text-anchor="end">0</text>
<line x1="311.80" y1="275.40" x2="311.80" y2="277.60" stroke="#222" stroke-width="1"/>
<text x="311.80" y="283.80" font-size="6.1" font-weight="bold" stroke="#222" stroke-width="0.22" text-anchor="middle">0</text>
<line x1="340.15" y1="275.40" x2="340.15" y2="277.60" stroke="#222" stroke-width="1"/>
<text x="340.15" y="283.80" font-size="6.1" font-weight="bold" stroke="#222" stroke-width="0.22" text-anchor="middle">6</text>
<line x1="368.50" y1="275.40" x2="368.50" y2="277.60" stroke="#222" stroke-width="1"/>
<text x="368.50" y="283.80" font-size="6.1" font-weight="bold" stroke="#222" stroke-width="0.22" text-anchor="middle">12</text>
<line x1="425.20" y1="275.40" x2="425.20" y2="277.60" stroke="#222" stroke-width="1"/>
<text x="425.20" y="283.80" font-size="6.1" font-weight="bold" stroke="#222" stroke-width="0.22" text-anchor="middle">24</text>
<line x1="481.90" y1="275.40" x2="481.90" y2="277.60" stroke="#222" stroke-width="1"/>
<text x="481.90" y="283.80" font-size="6.1" font-weight="bold" stroke="#222" stroke-width="0.22" text-anchor="middle">36</text>
<text x="292.10" y="231.50" font-size="7.9" font-weight="bold" stroke="#222" stroke-width="0.22" text-anchor="middle" textLength="72" lengthAdjust="spacingAndGlyphs" transform="rotate(-90 292.10 231.50)">Overall survival (%)</text>
<text x="396.50" y="292.00" font-size="7.0" font-weight="bold" stroke="#222" stroke-width="0.22" text-anchor="middle" textLength="46.9" lengthAdjust="spacingAndGlyphs">Time (months)</text>
<path d="M311.80 183.50H318.00V186.70H319.90V190.50H321.70V194.20H324.20V198.00H326.70V202.40H328.60V206.70H329.50V218.00H336.10V220.50H338.00V229.90H344.90V233.60H346.40V234.40H350.50V238.30H355.00V242.30H358.60V246.20H360.50V250.50H361.90V254.50H365.10V258.80H404.80V263.00H424.20V267.30H474.10" fill="none" stroke="#cf5262" stroke-width="1.25" stroke-linejoin="miter"/>
<path d="M311.50 183.50H327.50V192.50H352.50V196.50H356.50V205.50H364.50V210.50H401.50V215.50H424.50V221.50H460.50V228.50H479.50V235.50H481.00" fill="none" stroke="#35438f" stroke-width="1.1" stroke-linejoin="miter"/>
<line x1="389.50" y1="208.50" x2="389.50" y2="210.50" stroke="#2a2a40" stroke-width="0.9"/>
<line x1="417.50" y1="213.50" x2="417.50" y2="215.50" stroke="#2a2a40" stroke-width="0.9"/>
<line x1="428.50" y1="219.50" x2="428.50" y2="221.50" stroke="#2a2a40" stroke-width="0.9"/>
<line x1="466.50" y1="265.30" x2="466.50" y2="267.30" stroke="#7a3040" stroke-width="0.9"/>
<line x1="473.50" y1="265.30" x2="473.50" y2="267.30" stroke="#7a3040" stroke-width="0.9"/>
<line x1="315.00" y1="264.00" x2="320.50" y2="264.00" stroke="#35438f" stroke-width="1"/>
<line x1="317.75" y1="262.80" x2="317.75" y2="264.20" stroke="#35438f" stroke-width="0.7"/>
<text x="322.50" y="265.60" font-size="6.5" font-weight="bold" stroke="#222" stroke-width="0.22" textLength="29.4" lengthAdjust="spacingAndGlyphs">ctDNA -ve</text>
<line x1="315.00" y1="270.60" x2="320.50" y2="270.60" stroke="#cf5262" stroke-width="1"/>
<line x1="317.75" y1="269.40" x2="317.75" y2="270.80" stroke="#cf5262" stroke-width="0.7"/>
<text x="322.50" y="272.40" font-size="6.5" font-weight="bold" stroke="#222" stroke-width="0.22" textLength="30.6" lengthAdjust="spacingAndGlyphs">ctDNA +ve</text>
<rect x="430.70" y="187.40" width="85.80" height="24.50" fill="#fff" stroke="#444" stroke-width="0.8"/>
<line x1="458.10" y1="187.40" x2="458.10" y2="211.90" stroke="#444" stroke-width="0.8"/>
<line x1="475.80" y1="187.40" x2="475.80" y2="211.90" stroke="#444" stroke-width="0.8"/>
<line x1="502.00" y1="187.40" x2="502.00" y2="211.90" stroke="#444" stroke-width="0.8"/>
<line x1="430.70" y1="199.80" x2="516.50" y2="199.80" stroke="#444" stroke-width="0.8"/>
<line x1="430.70" y1="206.00" x2="475.80" y2="206.00" stroke="#444" stroke-width="0.8"/>
<text x="466.95" y="192.60" font-size="4.8" font-weight="bold" text-anchor="middle" fill="#2a2a2a">mOS</text>
<text x="466.95" y="198.40" font-size="4.8" font-weight="bold" text-anchor="middle" textLength="15.5" lengthAdjust="spacingAndGlyphs" fill="#2a2a2a">(mths)</text>
<text x="488.90" y="192.60" font-size="4.8" font-weight="bold" text-anchor="middle" fill="#2a2a2a">HR</text>
<text x="488.90" y="198.40" font-size="4.8" font-weight="bold" text-anchor="middle" fill="#2a2a2a">(95% CI)</text>
<text x="509.25" y="192.60" font-size="5.3999999999999995" font-weight="bold" font-style="italic" text-anchor="middle" fill="#2a2a2a">P</text>
<text x="431.70" y="204.60" font-size="5.1" font-weight="bold" textLength="25.5" lengthAdjust="spacingAndGlyphs" fill="#2a2a2a">ctDNA -ve</text>
<text x="431.70" y="210.70" font-size="5.1" font-weight="bold" textLength="26.0" lengthAdjust="spacingAndGlyphs" fill="#2a2a2a">ctDNA +ve</text>
<text x="466.95" y="204.60" font-size="5.1" text-anchor="middle" fill="#2a2a2a">35.5</text>
<text x="466.95" y="210.70" font-size="5.1" text-anchor="middle" fill="#2a2a2a">5.6</text>
<text x="488.90" y="204.60" font-size="5.1" text-anchor="middle" fill="#2a2a2a">0.29</text>
<text x="488.60" y="210.80" font-size="5.2" text-anchor="middle" textLength="24.599999999999987" lengthAdjust="spacingAndGlyphs" fill="#2a2a2a">(0.14–0.60)</text>
<text x="509.25" y="207.80" font-size="5.1" text-anchor="middle" fill="#2a2a2a">&lt;0.01</text>
<text x="276.30" y="302.50" font-size="5.1" textLength="22.8" lengthAdjust="spacingAndGlyphs">ctDNA -ve</text>
<text x="311.80" y="302.50" font-size="5.1" text-anchor="middle">20</text>
<text x="340.15" y="302.50" font-size="5.1" text-anchor="middle">19</text>
<text x="368.50" y="302.50" font-size="5.1" text-anchor="middle">15</text>
<text x="425.20" y="302.50" font-size="5.1" text-anchor="middle">10</text>
<text x="481.90" y="302.50" font-size="5.1" text-anchor="middle">6</text>
<text x="276.30" y="308.00" font-size="5.1" textLength="22.8" lengthAdjust="spacingAndGlyphs">ctDNA +ve</text>
<text x="311.80" y="308.00" font-size="5.1" text-anchor="middle">24</text>
<text x="340.15" y="308.00" font-size="5.1" text-anchor="middle">12</text>
<text x="368.50" y="308.00" font-size="5.1" text-anchor="middle">5</text>
<text x="425.20" y="308.00" font-size="5.1" text-anchor="middle">3</text>
<text x="481.90" y="308.00" font-size="5.1" text-anchor="middle">1</text>
</svg>
</body></html>
